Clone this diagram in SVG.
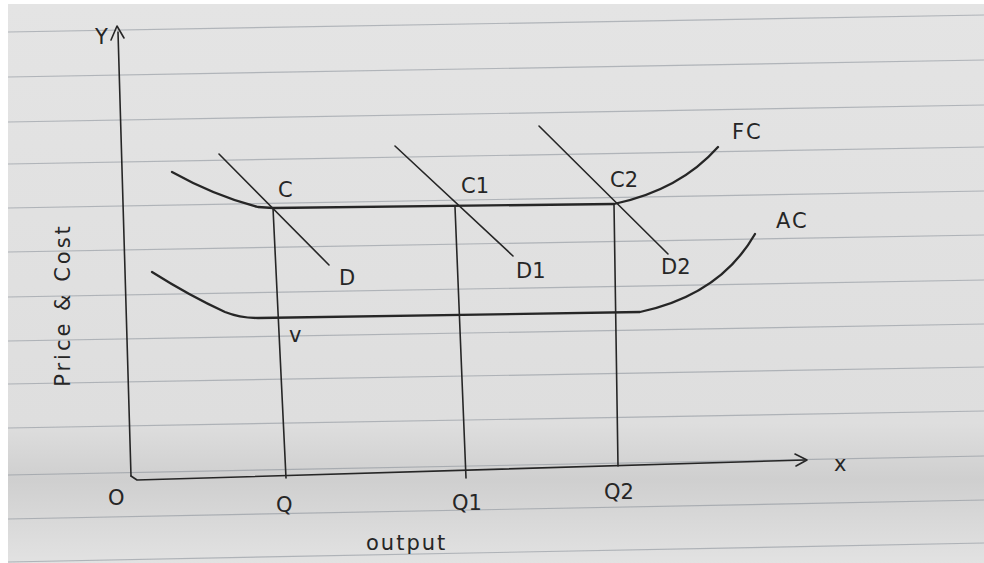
<svg xmlns="http://www.w3.org/2000/svg" width="984" height="563" viewBox="0 0 984 563">
<defs>
<style>
.rule{stroke:#7d858f;stroke-width:1.2;opacity:0.5;fill:none}
.ink{stroke:#262626;fill:none;stroke-linecap:round;stroke-linejoin:round}
.thin{stroke-width:1.6}
.thick{stroke-width:2.3}
.lbl{font-family:"DejaVu Sans","Liberation Sans",sans-serif;font-size:21px;fill:#262626}
</style>
<linearGradient id="paper" x1="0" y1="0" x2="0" y2="1">
<stop offset="0" stop-color="#e4e4e4"/>
<stop offset="0.75" stop-color="#dedede"/>
<stop offset="0.85" stop-color="#cfcfcf"/>
<stop offset="1" stop-color="#e2e2e2"/>
</linearGradient>
</defs>
<rect x="0" y="0" width="984" height="563" fill="#ffffff"/>
<rect x="8" y="4" width="976" height="559" fill="url(#paper)"/>
<g id="paper-rules">
<line class="rule" x1="8" y1="32" x2="984" y2="15"/>
<line class="rule" x1="8" y1="77" x2="984" y2="60"/>
<line class="rule" x1="8" y1="122" x2="984" y2="105"/>
<line class="rule" x1="8" y1="164" x2="984" y2="147"/>
<line class="rule" x1="8" y1="208" x2="984" y2="191"/>
<line class="rule" x1="8" y1="252" x2="984" y2="235"/>
<line class="rule" x1="8" y1="297" x2="984" y2="280"/>
<line class="rule" x1="8" y1="341" x2="984" y2="324"/>
<line class="rule" x1="8" y1="384" x2="984" y2="367"/>
<line class="rule" x1="8" y1="428" x2="984" y2="411"/>
<line class="rule" x1="8" y1="475" x2="984" y2="456"/>
<line class="rule" x1="8" y1="519" x2="984" y2="500"/>
<line class="rule" x1="8" y1="562" x2="984" y2="543"/>
</g>
<g id="axes">
<path class="ink thin" d="M118,32 L131,476"/>
<path class="ink thin" d="M111,40 L117,26 L124,38"/>
<path class="ink thin" d="M131,476 L137,480 L805,460"/>
<path class="ink thin" d="M795,454 L807,460 L796,466"/>
</g>
<g id="connectors">
<path class="ink thin" d="M273,208 L286,478"/>
<path class="ink thin" d="M455,207 L466,478"/>
<path class="ink thin" d="M614,204 L618,466"/>
<path class="ink thin" d="M219,154 L329,265"/>
<path class="ink thin" d="M395,146 L513,256"/>
<path class="ink thin" d="M539,126 L668,254"/>
</g>
<g id="FC">
<path class="ink thick" d="M172,172 Q215,196 258,207 L273,208 L614,204 Q680,190 718,147"/>
</g>
<g id="AC">
<path class="ink thick" d="M152,272 Q190,296 225,312 Q240,318 258,318 L640,312 Q720,295 755,234"/>
</g>
<g id="labels">
<text class="lbl" x="95" y="44">Y</text>
<text class="lbl" x="834" y="471" font-size="18">x</text>
<text class="lbl" x="108" y="505">O</text>
<text class="lbl" x="276" y="512" font-size="23">Q</text>
<text class="lbl" x="452" y="510" font-size="23">Q1</text>
<text class="lbl" x="604" y="499" font-size="23">Q2</text>
<text class="lbl" x="366" y="550" font-size="25" letter-spacing="2">output</text>
<text class="lbl" transform="translate(70,305) rotate(-90)" text-anchor="middle" font-size="25" letter-spacing="3">Price &amp; Cost</text>
<text class="lbl" x="278" y="197">C</text>
<text class="lbl" x="461" y="193">C1</text>
<text class="lbl" x="610" y="187">C2</text>
<text class="lbl" x="339" y="285">D</text>
<text class="lbl" x="516" y="278">D1</text>
<text class="lbl" x="661" y="274">D2</text>
<text class="lbl" x="732" y="139" font-size="24" letter-spacing="2">FC</text>
<text class="lbl" x="776" y="228" font-size="24" letter-spacing="2">AC</text>
<text class="lbl" x="289" y="342">v</text>
</g>
</svg>
